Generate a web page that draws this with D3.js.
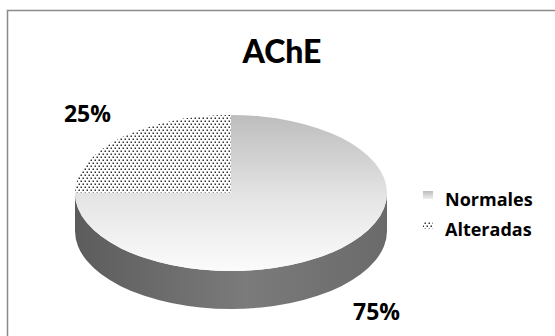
<!DOCTYPE html>
<html><head><meta charset="utf-8">
<script src="https://cdn.jsdelivr.net/npm/d3@7"></script>
<style>html,body{margin:0;padding:0;background:#fff;}svg{display:block;}</style>
</head><body><svg id="c" width="555" height="336"></svg>
<script>
const title = "AChE";
const categories = ["Normales", "Alteradas"];
const values = [75, 25];
const labels = ["75%", "25%"];

const W = 555, H = 336;
const svg = d3.select("#c");
const font = "Lato, 'Open Sans', sans-serif";
const font2 = "'Open Sans', Lato, sans-serif";
const defs = svg.append("defs");

// gradients & pattern
const gTop = defs.append("linearGradient").attr("id","gTop").attr("x1",0).attr("y1",0).attr("x2",0).attr("y2",1);
gTop.append("stop").attr("offset","0%").attr("stop-color","#bdbdbd");
gTop.append("stop").attr("offset","55%").attr("stop-color","#e6e6e6");
gTop.append("stop").attr("offset","100%").attr("stop-color","#fbfbfb");
const gSide = defs.append("linearGradient").attr("id","gSide").attr("x1",0).attr("y1",0).attr("x2",1).attr("y2",0);
gSide.append("stop").attr("offset","0%").attr("stop-color","#5c5c5c");
gSide.append("stop").attr("offset","55%").attr("stop-color","#7b7b7b");
gSide.append("stop").attr("offset","100%").attr("stop-color","#6a6a6a");
const pat = defs.append("pattern").attr("id","dots").attr("patternUnits","userSpaceOnUse")
  .attr("width",4).attr("height",6);
pat.append("rect").attr("width",4).attr("height",6).attr("fill","#fff");
pat.append("rect").attr("x",0.5).attr("y",0.5).attr("width",1.5).attr("height",1.5).attr("fill","#333");
pat.append("rect").attr("x",2.5).attr("y",3.5).attr("width",1.5).attr("height",1.5).attr("fill","#333");
const gLeg = defs.append("linearGradient").attr("id","gLeg").attr("x1",0).attr("y1",0).attr("x2",0).attr("y2",1);
gLeg.append("stop").attr("offset","0%").attr("stop-color","#bdbdbd");
gLeg.append("stop").attr("offset","100%").attr("stop-color","#eeeeee");

// frame
svg.append("rect").attr("x",7.5).attr("y",10.5).attr("width",W).attr("height",H)
  .attr("fill","#fff").attr("stroke","#8a8a8a").attr("stroke-width",1.5);

// title
svg.append("text").attr("x",282).attr("y",63).attr("text-anchor","middle")
  .attr("font-family",font).attr("font-weight","900").attr("font-size",32).attr("fill","#000").text(title);

// pie geometry
const cx = 231, cy = 193, rx = 156, ry = 78, depth = 38;
const pie = d3.pie().sort(null).value(d => d);
const arcs = pie(values);
const pt = (a, dy=0) => [cx + rx*Math.sin(a), cy - ry*Math.cos(a) + dy];
const fills = ["url(#gTop)", "url(#dots)"];

// side (front half, angles PI/2 .. 3PI/2)
{
  const a0 = Math.max(arcs[0].startAngle, Math.PI/2), a1 = Math.min(arcs[0].endAngle, 3*Math.PI/2);
  const p0 = pt(a0), p1 = pt(a1), q1 = pt(a1, depth), q0 = pt(a0, depth);
  const large = (a1 - a0) > Math.PI ? 1 : 0;
  const d = `M${p0}A${rx},${ry} 0 ${large} 1 ${p1}L${q1}A${rx},${ry} 0 ${large} 0 ${q0}Z`;
  svg.append("path").attr("d", d).attr("fill","url(#gSide)");
}

// top face
const topFace = svg.append("g");
arcs.forEach((a, i) => {
  const p0 = pt(a.startAngle), p1 = pt(a.endAngle);
  const large = (a.endAngle - a.startAngle) > Math.PI ? 1 : 0;
  const d = `M${cx},${cy}L${p0}A${rx},${ry} 0 ${large} 1 ${p1}Z`;
  topFace.append("path").attr("d", d).attr("fill", fills[i]);
});

// data labels
arcs.forEach((a, i) => {
  const m = (a.startAngle + a.endAngle) / 2;
  const front = Math.cos(m) < 0;
  const x = cx + rx*1.31*Math.sin(m) + 1;
  const y = cy - ry*1.45*Math.cos(m) + (front ? depth : 0) + 9;
  svg.append("text").attr("x", x).attr("y", y).attr("text-anchor","middle")
    .attr("font-family",font2).attr("font-weight","bold").attr("font-size",23).attr("fill","#000").text(labels[i]);
});

// legend
const lg = svg.append("g");
const ly = d3.scalePoint().domain(categories).range([206, 236]);
const swFill = ["url(#gLeg)", "url(#dots)"];
categories.forEach((c, i) => {
  const y = ly(c);
  lg.append("rect").attr("x",423).attr("y",y-15).attr("width",10).attr("height",8).attr("fill",swFill[i]);
  lg.append("text").attr("x",445).attr("y",y).attr("font-family",font2).attr("font-weight","bold")
    .attr("font-size",18).attr("fill","#000").text(c);
});
</script></body></html>
